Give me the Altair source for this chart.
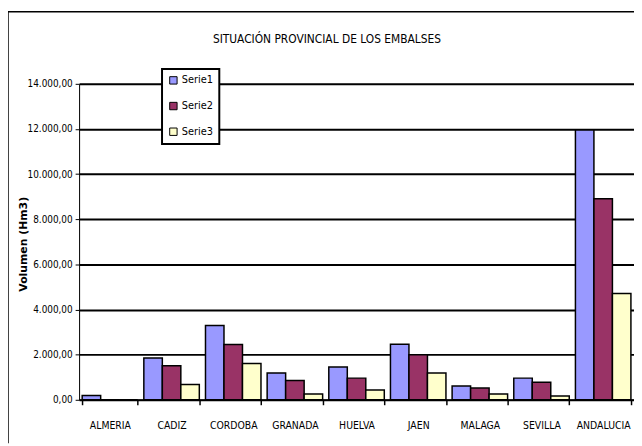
import altair as alt
import pandas as pd

provincias = ["ALMERIA", "CADIZ", "CORDOBA", "GRANADA", "HUELVA", "JAEN", "MALAGA", "SEVILLA", "ANDALUCIA"]
serie1 = [190, 1850, 3290, 1190, 1450, 2460, 610, 960, 11950]
serie2 = [0, 1510, 2450, 855, 960, 2000, 520, 780, 8910]
serie3 = [0, 680, 1610, 260, 430, 1190, 260, 170, 4710]
series_names = ["Serie1", "Serie2", "Serie3"]
series_colors = ["#9999FF", "#993366", "#FFFFCC"]
y_ticks = [0, 2000, 4000, 6000, 8000, 10000, 12000, 14000]
titulo = "SITUACIÓN PROVINCIAL DE LOS EMBALSES"

rows = []
for name, vals in zip(series_names, [serie1, serie2, serie3]):
    for p, v in zip(provincias, vals):
        rows.append({"Provincia": p, "Serie": name, "Volumen": v})
df = pd.DataFrame(rows)

NARROW = "DejaVu Sans Condensed, Liberation Sans Narrow, sans-serif"

label_expr = "replace(replace(replace(format(datum.value, ',.2f'), ',', '_'), '.', ','), '_', '.')"

bars = alt.Chart(df).mark_bar(stroke="black", strokeWidth=1.5).encode(
    x=alt.X("Provincia:N", sort=provincias,
            scale=alt.Scale(paddingInner=0.1, paddingOuter=0.05),
            axis=alt.Axis(title=None, labelAngle=0, tickBand="extent", tickSize=5,
                          tickColor="black", tickWidth=1.5, domainColor="black", domainWidth=1.5,
                          labelFont=NARROW, labelFontSize=10.5, labelColor="black",
                          labelPadding=16, grid=False)),
    xOffset=alt.XOffset("Serie:N", sort=series_names,
                        scale=alt.Scale(paddingInner=0, paddingOuter=0)),
    y=alt.Y("Volumen:Q",
            scale=alt.Scale(domain=[0, 14000], nice=False),
            axis=alt.Axis(title="Volumen (Hm3)", values=y_ticks, labelExpr=label_expr,
                          labelFont=NARROW, labelFontSize=10, labelColor="black",
                          tickSize=4, tickColor="black", labelPadding=3,
                          domainColor="black", domainWidth=1,
                          grid=True, gridColor="black", gridWidth=2,
                          titleFont="DejaVu Sans", titleFontWeight="bold", titleFontSize=11,
                          titleColor="black", titleAngle=270, titleX=-56, titleY=162,
                          titleAlign="center", titleBaseline="middle")),
    color=alt.Color("Serie:N", sort=series_names,
                    scale=alt.Scale(domain=series_names, range=series_colors),
                    legend=alt.Legend(title=None, orient="none", legendX=84, legendY=-15,
                                      symbolType="square", symbolSize=56,
                                      symbolStrokeColor="black", symbolStrokeWidth=1,
                                      symbolOpacity=1,
                                      labelFont=NARROW, labelFontSize=11, labelColor="black",
                                      labelOffset=3, rowPadding=13, padding=6,
                                      strokeColor="black", fillColor="white")),
)

frame_df = pd.DataFrame({"k": [0]})
frame_left = alt.Chart(frame_df).mark_rule(color="black", strokeWidth=1.5).encode(
    x=alt.value(-72), y=alt.value(-73), y2=alt.value(364))
frame_top = alt.Chart(frame_df).mark_rule(color="black", strokeWidth=1.5).encode(
    x=alt.value(-72), x2=alt.value(562), y=alt.value(-73))
title_text = alt.Chart(frame_df).mark_text(
    text=titulo, font=NARROW, fontSize=12, color="black", align="center", baseline="middle"
).encode(x=alt.value(251), y=alt.value(-45))

chart = alt.layer(bars, frame_left, frame_top, title_text).properties(
    width=562, height=320,
    autosize=alt.AutoSizeParams(type="none"),
    padding={"left": 72, "top": 74, "right": 0, "bottom": 44},
).configure_view(stroke=None).configure(background="white").configure_legend(strokeWidth=2)

chart.save("out.html", embed_options={"renderer": "svg", "actions": False})
